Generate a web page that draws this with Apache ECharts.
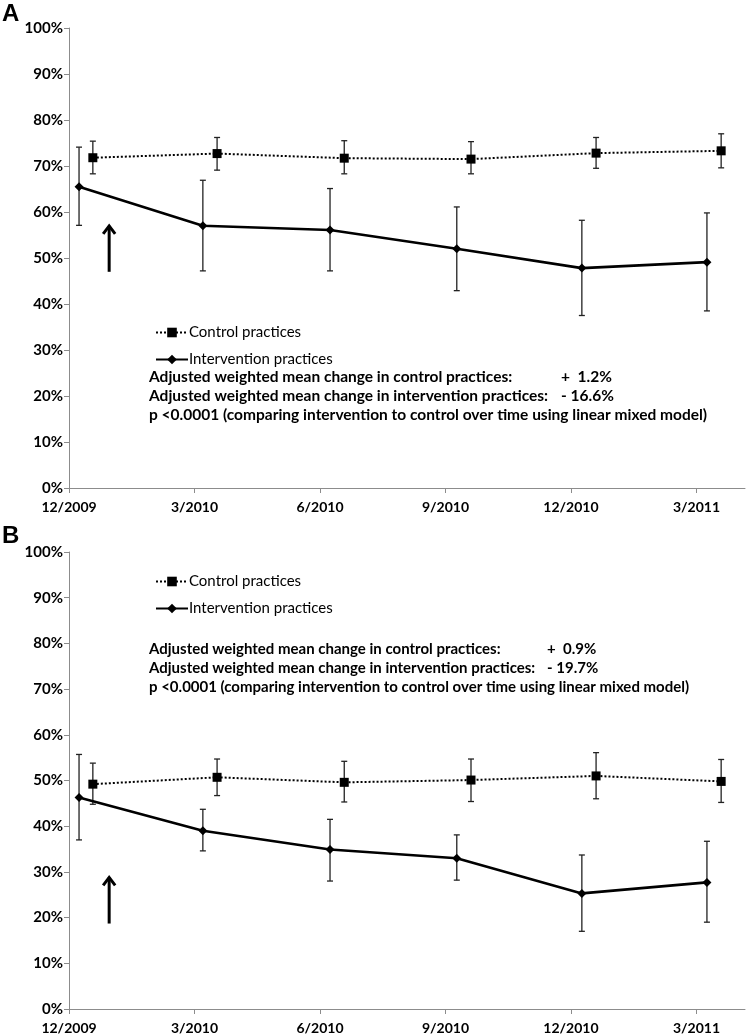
<!DOCTYPE html>
<html><head><meta charset="utf-8">
<script src="https://cdn.jsdelivr.net/npm/echarts@6/dist/echarts.min.js"></script>
<style>html,body{margin:0;padding:0;background:#fff}#c{width:747px;height:1035px}</style>
</head><body><div id="c"></div>
<script>
// ---- data ----
const xLabels = ['12/2009','3/2010','6/2010','9/2010','12/2010','3/2011'];
const xTickMonths = [0, 3, 6, 9, 12, 15];
const monthsIntervention = [0.24, 3.2, 6.24, 9.27, 12.26, 15.25];
const monthsControl = [0.57, 3.54, 6.58, 9.61, 12.6, 15.59];

const aControl     = [71.8, 72.7, 71.7, 71.5, 72.8, 73.3];
const aControlHigh = [75.4, 76.2, 75.5, 75.3, 76.2, 77.0];
const aControlLow  = [68.3, 69.1, 68.3, 68.3, 69.5, 69.6];
const aInterv      = [65.5, 57.0, 56.1, 52.0, 47.8, 49.1];
const aIntervHigh  = [74.1, 66.9, 65.1, 61.1, 58.2, 59.8];
const aIntervLow   = [57.1, 47.2, 47.2, 42.9, 37.5, 38.5];

const bControl     = [49.2, 50.7, 49.6, 50.1, 51.0, 49.8];
const bControlHigh = [53.8, 54.7, 54.2, 54.7, 56.1, 54.6];
const bControlLow  = [44.8, 46.7, 45.3, 45.4, 46.0, 45.2];
const bInterv      = [46.3, 39.0, 34.9, 33.0, 25.3, 27.7];
const bIntervHigh  = [55.7, 43.7, 41.5, 38.1, 33.7, 36.7];
const bIntervLow   = [37.0, 34.6, 28.0, 28.2, 17.0, 19.0];

const arrowMonth = 0.96;
const arrowA = [47.0, 57.2];
const arrowB = [18.7, 29.0];

const seriesNames = ['Control practices', 'Intervention practices'];
const statsA = ['+  1.2%', '- 16.6%'];
const statsB = ['+  0.9%', '- 19.7%'];
const statLabels = ['Adjusted weighted mean change in control practices:',
                    'Adjusted weighted mean change in intervention practices:',
                    'p <0.0001 (comparing intervention to control over time using linear mixed model)'];

// ---- build ----
const FONT = 'Lato';
function pairs(xs, ys){ return xs.map((x,i)=>[x, ys[i]]); }
function errData(xs, lo, hi){ return xs.map((x,i)=>[x, lo[i], hi[i]]); }

function errRender(params, api){
  const x = api.value(0);
  const lo = api.coord([x, api.value(1)]);
  const hi = api.coord([x, api.value(2)]);
  const cw = 3;
  const st = {stroke:'#222', lineWidth:1.3};
  return {type:'group', children:[
    {type:'line', shape:{x1:lo[0], y1:lo[1], x2:hi[0], y2:hi[1]}, style:st},
    {type:'line', shape:{x1:hi[0]-cw, y1:hi[1], x2:hi[0]+cw, y2:hi[1]}, style:st},
    {type:'line', shape:{x1:lo[0]-cw, y1:lo[1], x2:lo[0]+cw, y2:lo[1]}, style:st}
  ]};
}
function arrowRender(params, api){
  const x = api.value(0);
  const b = api.coord([x, api.value(1)]);
  const t = api.coord([x, api.value(2)]);
  const st = {stroke:'#000', lineWidth:3, fill:null, lineCap:'butt', lineJoin:'miter'};
  return {type:'group', children:[
    {type:'line', shape:{x1:b[0], y1:b[1], x2:t[0], y2:t[1]+1}, style:st},
    {type:'polyline', shape:{points:[[t[0]-6, t[1]+9],[t[0], t[1]+1],[t[0]+6, t[1]+9]]}, style:st}
  ]};
}

const grids = [
  {left:69, top:28, width:676, height:460},
  {left:69, top:552, width:676, height:458}
];
function xAxis(i){
  return {type:'value', gridIndex:i, min:0, max:16.16, interval:3,
    axisLine:{show:true, lineStyle:{color:'#8c8c8c', width:1}},
    axisTick:{show:true, length:5, lineStyle:{color:'#8c8c8c'}, customValues:xTickMonths},
    axisLabel:{customValues:xTickMonths, margin:12, color:'#000', fontFamily:FONT, fontWeight:'bold', fontSize:14,
      formatter:(v)=>{const k=xTickMonths.indexOf(Math.round(v)); return k>=0?xLabels[k]:'';}},
    splitLine:{show:false}};
}
function yAxis(i){
  return {type:'value', gridIndex:i, min:0, max:100, interval:10,
    axisLine:{show:true, lineStyle:{color:'#8c8c8c', width:1}},
    axisTick:{show:true, length:5, lineStyle:{color:'#8c8c8c'}},
    axisLabel:{margin:6, color:'#000', fontFamily:FONT, fontWeight:'bold', fontSize:15, formatter:'{value}%'},
    splitLine:{show:false}};
}
function panelSeries(i, ctl, ctlLo, ctlHi, itv, itvLo, itvHi, arrow){
  return [
    {type:'custom', xAxisIndex:i, yAxisIndex:i, renderItem:errRender, data:errData(monthsControl, ctlLo, ctlHi), z:1, silent:true},
    {type:'custom', xAxisIndex:i, yAxisIndex:i, renderItem:errRender, data:errData(monthsIntervention, itvLo, itvHi), z:1, silent:true},
    {type:'custom', xAxisIndex:i, yAxisIndex:i, renderItem:arrowRender, data:[[arrowMonth, arrow[0], arrow[1]]], z:1, silent:true},
    {name:seriesNames[0], type:'line', xAxisIndex:i, yAxisIndex:i, data:pairs(monthsControl, ctl),
      symbol:'rect', symbolSize:9, itemStyle:{color:'#000'}, lineStyle:{color:'#000', width:2, type:[2,2]}, z:3},
    {name:seriesNames[1], type:'line', xAxisIndex:i, yAxisIndex:i, data:pairs(monthsIntervention, itv),
      symbol:'diamond', symbolSize:9, itemStyle:{color:'#000'}, lineStyle:{color:'#000', width:2.6}, z:3}
  ];
}
function legend(i, top){
  return {orient:'vertical', left:150, top:top, itemWidth:32, itemHeight:12, itemGap:12,
    data:seriesNames, selectedMode:false,
    textStyle:{fontFamily:FONT, fontSize:15, color:'#000', padding:[0,0,0,-4]}};
}
function annotations(top, size, valueLeft, stats){
  const out = [];
  statLabels.forEach((t,k)=>{
    out.push({type:'text', left:149, top:top + k*19, style:{text:t, font:'bold '+size+'px '+FONT, fill:'#000'}});
  });
  stats.forEach((t,k)=>{
    out.push({type:'text', left:valueLeft, top:top + k*19, style:{text:t, font:'bold '+size+'px '+FONT, fill:'#000'}});
  });
  return out;
}

const chart = echarts.init(document.getElementById('c'), null, {renderer:'canvas'});
chart.setOption({
  animation:false,
  backgroundColor:'#fff',
  grid:grids,
  xAxis:[xAxis(0), xAxis(1)],
  yAxis:[yAxis(0), yAxis(1)],
  legend:[legend(0, 320), legend(1, 569)],
  series:[].concat(
    panelSeries(0, aControl, aControlLow, aControlHigh, aInterv, aIntervLow, aIntervHigh, arrowA),
    panelSeries(1, bControl, bControlLow, bControlHigh, bInterv, bIntervLow, bIntervHigh, arrowB)
  ),
  graphic:[
    {type:'text', left:2, top:2, style:{text:'A', font:'bold 24px "Liberation Sans"', fill:'#000'}},
    {type:'text', left:2, top:524, style:{text:'B', font:'bold 24px "Liberation Sans"', fill:'#000'}}
  ].concat(annotations(369, 15.5, 561, statsA), annotations(642, 15, 547, statsB))
});
</script></body></html>
